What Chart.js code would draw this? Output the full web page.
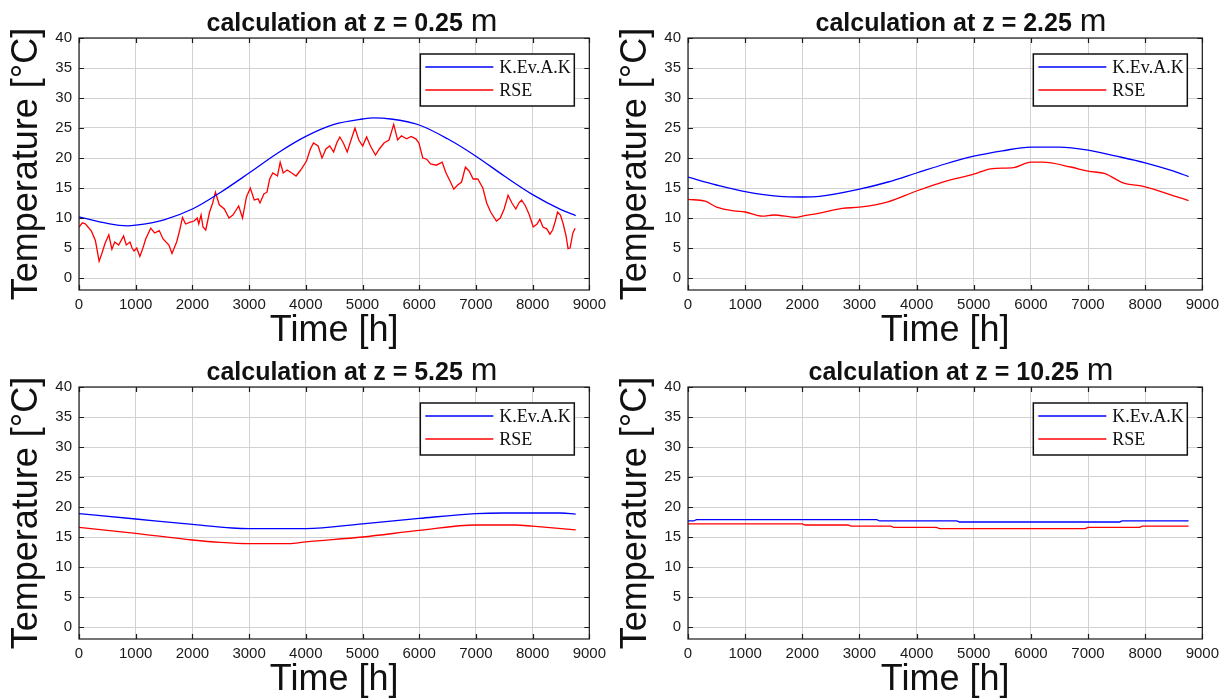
<!DOCTYPE html>
<html>
<head>
<meta charset="utf-8">
<script src="https://cdn.jsdelivr.net/npm/chart.js@4.4.1/dist/chart.umd.min.js"></script>
<style>
  html, body { margin: 0; padding: 0; background: #fff; }
  #wrap { position: relative; width: 1225px; height: 698px; overflow: hidden; }
  .panel { position: absolute; }
</style>
</head>
<body>
<div id="wrap">
  <div class="panel" style="left:0;top:0"><canvas id="c0" width="612" height="362"></canvas></div>
  <div class="panel" style="left:609px;top:0"><canvas id="c1" width="616" height="362"></canvas></div>
  <div class="panel" style="left:0;top:349px"><canvas id="c2" width="612" height="349"></canvas></div>
  <div class="panel" style="left:609px;top:349px"><canvas id="c3" width="616" height="349"></canvas></div>
</div>
<script>
// ── DATA ───────────────────────────────────────────────────────
const xTicks = [0, 1000, 2000, 3000, 4000, 5000, 6000, 7000, 8000, 9000];
const yTicks = [0, 5, 10, 15, 20, 25, 30, 35, 40];
const depths = ['0.25', '2.25', '5.25', '10.25'];
const seriesNames = ['K.Ev.A.K', 'RSE'];

// z = 0.25 m
const kevakHours1 = [0, 500, 850, 1000, 1500, 2000, 2500, 3000, 3500, 4000, 4500, 5000, 5200, 5500, 6000, 6500, 7000, 7500, 8000, 8500, 8760];
const kevak1 = [10.2, 9.1, 8.7, 8.8, 9.7, 11.5, 14.3, 17.5, 20.8, 23.6, 25.6, 26.5, 26.7, 26.5, 25.5, 23.2, 20.3, 17.0, 13.9, 11.4, 10.4];
const rseHours1 = [0, 60, 115, 220, 290, 355, 400, 460, 526, 580, 630, 700, 786, 834, 900, 936, 970, 1018, 1073, 1128, 1176, 1265, 1333, 1415, 1483, 1586, 1640, 1722, 1777, 1825, 1880, 1962, 2030, 2085, 2112, 2153, 2187, 2235, 2303, 2358, 2406, 2474, 2563, 2645, 2714, 2782, 2816, 2884, 2953, 3021, 3090, 3158, 3192, 3260, 3315, 3363, 3418, 3500, 3548, 3602, 3670, 3753, 3828, 3910, 4012, 4081, 4135, 4217, 4286, 4354, 4422, 4491, 4545, 4600, 4662, 4730, 4798, 4867, 4935, 5003, 5072, 5140, 5229, 5297, 5379, 5468, 5550, 5619, 5687, 5776, 5858, 5940, 5995, 6063, 6131, 6200, 6302, 6405, 6473, 6541, 6610, 6678, 6747, 6815, 6883, 6951, 7033, 7122, 7190, 7259, 7362, 7430, 7498, 7567, 7635, 7704, 7758, 7806, 7874, 7943, 8011, 8079, 8127, 8182, 8250, 8305, 8353, 8401, 8440, 8490, 8540, 8590, 8625, 8660, 8710, 8750];
const rse1 = [8.5, 9.2, 9.0, 7.8, 6.2, 2.8, 4.0, 5.8, 7.2, 4.8, 6.0, 5.5, 7.0, 5.5, 6.0, 5.0, 4.5, 5.0, 3.6, 5.0, 6.5, 8.3, 7.5, 7.9, 6.5, 5.5, 4.1, 6.0, 8.0, 10.1, 9.0, 9.3, 9.5, 10.0, 9.0, 10.5, 8.5, 8.0, 11.0, 12.5, 14.3, 12.2, 11.5, 10.0, 10.5, 11.5, 12.0, 10.0, 13.5, 15.0, 13.0, 13.2, 12.5, 14.0, 14.3, 16.5, 17.5, 17.0, 19.3, 17.5, 18.0, 17.5, 17.0, 18.0, 19.5, 21.5, 22.5, 22.0, 20.0, 21.5, 22.0, 21.0, 22.5, 23.5, 22.5, 21.0, 23.0, 25.0, 23.0, 22.0, 23.5, 22.0, 20.5, 21.5, 22.5, 23.0, 25.6, 23.0, 23.7, 23.2, 23.6, 23.2, 22.5, 20.0, 19.8, 19.0, 18.8, 19.3, 17.5, 16.2, 14.8, 15.5, 16.0, 18.5, 17.8, 16.5, 16.5, 15.0, 12.5, 11.0, 9.5, 10.0, 11.5, 13.8, 12.5, 11.5, 12.5, 13.0, 12.0, 10.5, 8.5, 9.0, 9.8, 8.5, 8.2, 7.3, 8.0, 9.5, 11.0, 10.5, 9.0, 7.0, 4.9, 5.0, 7.5, 8.3];

// z = 2.25 m
const kevakHours2 = [0, 500, 1000, 1600, 2000, 2300, 3000, 3500, 4000, 4500, 5000, 5500, 6000, 6500, 7000, 7500, 8000, 8500, 8760];
const kevak2 = [16.8, 15.5, 14.4, 13.6, 13.5, 13.6, 14.8, 16.0, 17.5, 19.0, 20.3, 21.2, 21.8, 21.8, 21.3, 20.3, 19.2, 17.8, 16.9];
const rseHours2 = [0, 300, 500, 800, 1000, 1300, 1500, 1900, 2000, 2300, 2700, 3000, 3500, 4000, 4500, 5000, 5300, 5700, 6000, 6200, 6700, 7000, 7300, 7600, 8000, 8500, 8760];
const rse2 = [13.1, 12.8, 11.8, 11.2, 11.0, 10.3, 10.5, 10.1, 10.3, 10.8, 11.6, 11.8, 12.7, 14.5, 16.1, 17.3, 18.2, 18.4, 19.3, 19.3, 18.5, 17.8, 17.4, 15.9, 15.2, 13.7, 12.9];

// z = 5.25 m
const kevakHours3 = [0, 1000, 2000, 2700, 3000, 3500, 4000, 5000, 6000, 7000, 7500, 8000, 8500, 8760];
const kevak3 = [18.9, 18.0, 17.1, 16.5, 16.4, 16.4, 16.4, 17.2, 18.1, 18.9, 19.0, 19.0, 19.0, 18.8];
const rseHours3 = [0, 1000, 2000, 2500, 3000, 3700, 4000, 5000, 6000, 7000, 7700, 8000, 8760];
const rse3 = [16.6, 15.6, 14.5, 14.1, 13.9, 13.9, 14.2, 15.0, 16.1, 17.0, 17.0, 16.8, 16.2];

// z = 10.25 m
const kevakHours4 = [0, 100, 150, 3300, 3350, 4700, 4750, 7550, 7600, 8760];
const kevak4 = [17.7, 17.7, 17.9, 17.9, 17.7, 17.7, 17.5, 17.5, 17.7, 17.7];
const rseHours4 = [0, 2000, 2050, 2800, 2850, 3550, 3600, 4350, 4400, 6950, 7000, 7900, 7950, 8760];
const rse4 = [17.2, 17.2, 17.0, 17.0, 16.8, 16.8, 16.6, 16.6, 16.4, 16.4, 16.6, 16.6, 16.8, 16.8];

// ── STYLE ──────────────────────────────────────────────────────
const SANS = '"Liberation Sans", Arial, sans-serif';
const SERIF = '"Liberation Serif", "Times New Roman", serif';
const BLUE = '#0000ff', RED = '#ff0000';

// box with inward ticks on all four sides (matlab look)
const framePlugin = {
  id: 'frame',
  afterDatasetsDraw(chart) {
    const { ctx, chartArea: { left, right, top, bottom }, scales: { x, y } } = chart;
    ctx.save();
    ctx.strokeStyle = '#1a1a1a';
    ctx.lineWidth = 1.2;
    ctx.strokeRect(left, top, right - left, bottom - top);
    ctx.beginPath();
    xTicks.forEach(v => {
      const px = Math.round(x.getPixelForValue(v)) + 0.5;
      ctx.moveTo(px, bottom); ctx.lineTo(px, bottom - 5);
      ctx.moveTo(px, top); ctx.lineTo(px, top + 5);
    });
    yTicks.forEach(v => {
      const py = Math.round(y.getPixelForValue(v)) + 0.5;
      ctx.moveTo(left, py); ctx.lineTo(left + 5, py);
      ctx.moveTo(right, py); ctx.lineTo(right - 5, py);
    });
    ctx.stroke();
    ctx.restore();
  }
};

const boxLegend = {
  id: 'boxLegend',
  afterDraw(chart) {
    const { ctx, chartArea: { right, top } } = chart;
    const bx = right - 169, by = top + 16, bw = 154, bh = 52;
    ctx.save();
    ctx.fillStyle = '#fff';
    ctx.fillRect(bx, by, bw, bh);
    ctx.strokeStyle = '#111';
    ctx.lineWidth = 1.5;
    ctx.strokeRect(bx, by, bw, bh);
    ctx.font = '18px ' + SERIF;
    ctx.textBaseline = 'middle';
    chart.data.datasets.forEach((ds, i) => {
      const ly = by + 13 + i * 23;
      ctx.strokeStyle = ds.borderColor;
      ctx.lineWidth = 1.5;
      ctx.beginPath(); ctx.moveTo(bx + 5, ly); ctx.lineTo(bx + 73, ly); ctx.stroke();
      ctx.fillStyle = '#111';
      ctx.fillText(ds.label, bx + 79, ly + 1);
    });
    ctx.restore();
  }
};

// title: bold "calculation at z = x" followed by a plain, larger "m"
const panelTitle = {
  id: 'panelTitle',
  afterDraw(chart, args, opts) {
    const { ctx } = chart;
    ctx.save();
    ctx.fillStyle = '#111';
    ctx.textBaseline = 'alphabetic';
    const main = 'calculation at z = ' + opts.depth;
    ctx.font = 'bold 25px ' + SANS;
    const w1 = ctx.measureText(main).width;
    ctx.font = '32px ' + SANS;
    const w2 = ctx.measureText('m').width;
    const x0 = 352 - (w1 + 8 + w2) / 2;
    ctx.font = 'bold 25px ' + SANS;
    ctx.fillText(main, x0, 31);
    ctx.font = '32px ' + SANS;
    ctx.fillText('m', x0 + w1 + 8, 31);
    ctx.restore();
  }
};

function toPoints(hours, temps) {
  return hours.map((h, i) => ({ x: h, y: temps[i] }));
}

function makeChart(id, depth, kHours, kTemps, rHours, rTemps, rough, bottomPad) {
  return new Chart(document.getElementById(id), {
    type: 'line',
    data: {
      datasets: [
        { label: seriesNames[0], data: toPoints(kHours, kTemps), borderColor: BLUE, borderWidth: 1.3, pointRadius: 0, cubicInterpolationMode: 'monotone' },
        { label: seriesNames[1], data: toPoints(rHours, rTemps), borderColor: RED, borderWidth: 1.3, pointRadius: 0,
          cubicInterpolationMode: rough ? 'default' : 'monotone', tension: 0 }
      ]
    },
    options: {
      responsive: false,
      animation: false,
      layout: { padding: { left: 0, right: 20, top: 38, bottom: bottomPad } },
      plugins: { legend: { display: false }, tooltip: { enabled: false }, panelTitle: { depth } },
      scales: {
        x: {
          type: 'linear', min: 0, max: 9000,
          afterFit: s => { s.height = 59; },
          afterBuildTicks: s => { s.ticks = xTicks.map(v => ({ value: v })); },
          grid: { color: '#d2d2d2', drawTicks: false },
          border: { display: false },
          ticks: { padding: 6, color: '#1a1a1a', font: { size: 15, family: SANS }, maxRotation: 0, callback: v => String(v) },
          title: { display: true, text: 'Time [h]', color: '#111', font: { size: 36, family: SANS, lineHeight: 1 }, padding: { top: 0, bottom: 0 } }
        },
        y: {
          min: -2, max: 40,
          afterFit: s => { s.width = 79; },
          afterBuildTicks: s => { s.ticks = yTicks.map(v => ({ value: v })); },
          grid: { color: '#d2d2d2', drawTicks: false },
          border: { display: false },
          ticks: { padding: 7, color: '#1a1a1a', font: { size: 15, family: SANS }, callback: v => String(v) },
          title: { display: true, text: 'Temperature [°C]', color: '#111', font: { size: 36, family: SANS, lineHeight: 1 }, padding: { top: 9, bottom: 0 } }
        }
      }
    },
    plugins: [framePlugin, boxLegend, panelTitle]
  });
}

makeChart('c0', depths[0], kevakHours1, kevak1, rseHours1, rse1, true, 13);
makeChart('c1', depths[1], kevakHours2, kevak2, rseHours2, rse2, false, 13);
makeChart('c2', depths[2], kevakHours3, kevak3, rseHours3, rse3, false, 0);
makeChart('c3', depths[3], kevakHours4, kevak4, rseHours4, rse4, true, 0);
</script>
</body>
</html>
